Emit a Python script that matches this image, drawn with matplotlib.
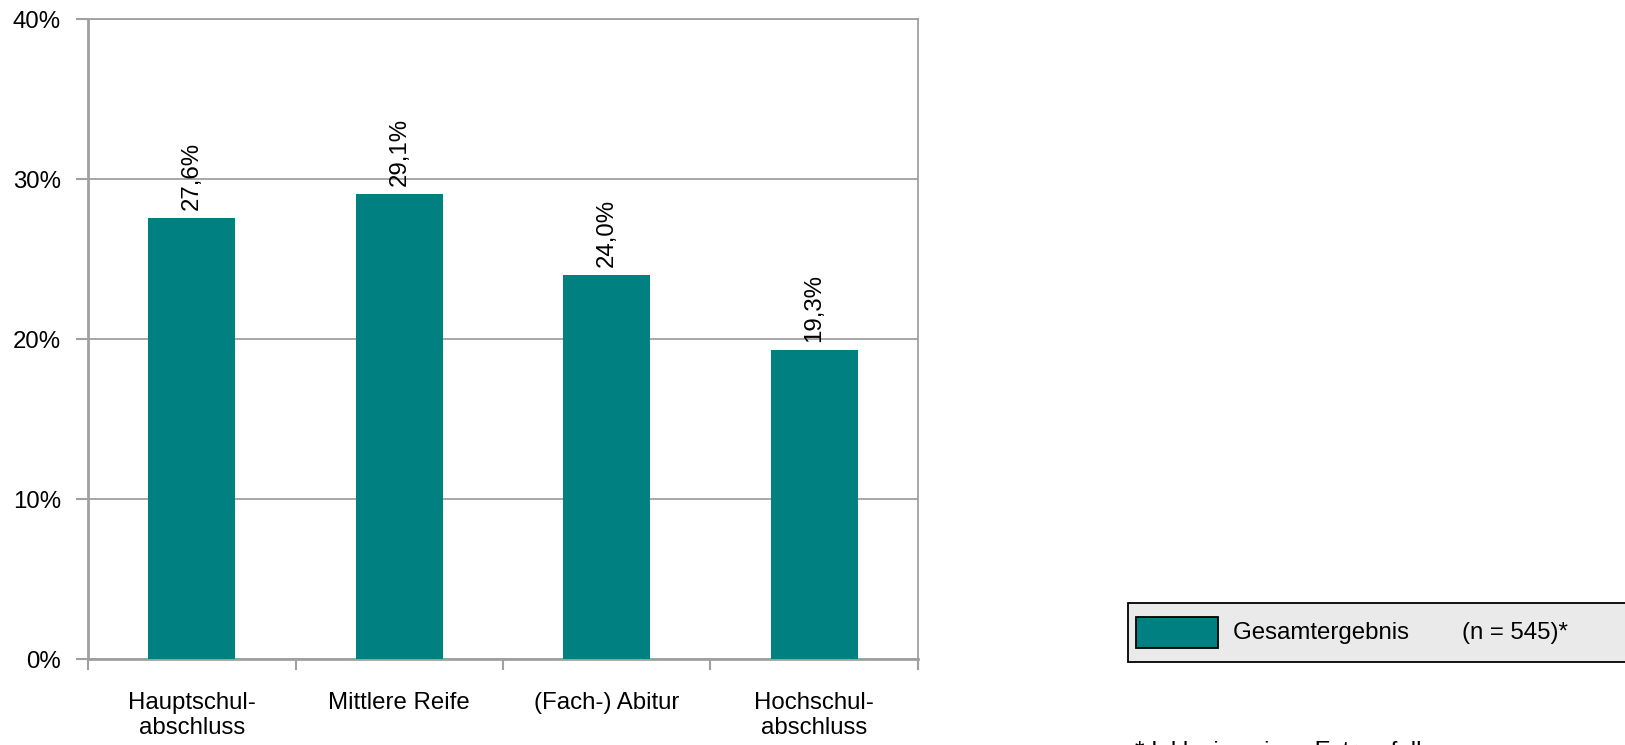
import matplotlib
matplotlib.use("Agg")
import matplotlib.pyplot as plt
from matplotlib.patches import Rectangle
import numpy as np

categories = ["Hauptschul-\nabschluss", "Mittlere Reife", "(Fach-) Abitur", "Hochschul-\nabschluss"]
values = [27.6, 29.1, 24.0, 19.3]
value_labels = ["27,6%", "29,1%", "24,0%", "19,3%"]
yticks = [0, 10, 20, 30, 40]
ytick_labels = ["0%", "10%", "20%", "30%", "40%"]
legend_label = "Gesamtergebnis        (n = 545)*"
footnote = "* Inklusive eines Extremfalles"

plt.rcParams['font.family'] = ['Liberation Sans', 'DejaVu Sans']
FS = 17.3
BAR = "#008080"
GRID = "#A0A0A0"

W, H = 1625, 745
fig = plt.figure(figsize=(W / 100, H / 100), dpi=100)
ax = fig.add_axes([88 / W, 1 - 659.3 / H, (918 - 88) / W, (659.3 - 19.3) / H])

x = np.arange(len(categories))
bars = ax.bar(x, values, width=0.417, color=BAR, zorder=3)
for b, lab in zip(bars, value_labels):
    ax.text(b.get_x() + b.get_width() / 2, b.get_height() + 0.5, lab,
            rotation=90, ha="center", va="bottom", fontsize=FS, zorder=4)

ax.set_xlim(-0.5, len(categories) - 0.5)
ax.set_ylim(0, 40)
ax.set_yticks(yticks)
ax.set_yticklabels(ytick_labels, fontsize=FS)
ax.yaxis.grid(True, color=GRID, lw=1.3, zorder=0)
ax.set_axisbelow(True)

ax.set_xticks(x)
ax.set_xticklabels(categories, fontsize=FS)
ax.set_xticks(np.arange(len(categories) + 1) - 0.5, minor=True)
ax.tick_params(axis="x", which="major", length=0, pad=23.3)
ax.tick_params(axis="x", which="minor", length=8, width=1.5, color=GRID)
ax.tick_params(axis="y", length=9, width=1.5, color=GRID, pad=10.5)

for s in ["left", "bottom"]:
    ax.spines[s].set_color(GRID)
    ax.spines[s].set_linewidth(2)
for s in ["top", "right"]:
    ax.spines[s].set_color(GRID)
    ax.spines[s].set_linewidth(1.3)

# Legend (manual, box extends past figure edge)
box = Rectangle((1128 / W, 1 - 662 / H), (1700 - 1128) / W, (662 - 603) / H,
                transform=fig.transFigure, facecolor="#EAEAEA", edgecolor="black",
                lw=1.3, clip_on=False)
fig.patches.append(box)
handle = Rectangle((1136 / W, 1 - 648 / H), (1218 - 1136) / W, (648 - 617) / H,
                   transform=fig.transFigure, facecolor=bars[0].get_facecolor(),
                   edgecolor="black", lw=1.3)
fig.patches.append(handle)
fig.text(1233 / W, 1 - 632.5 / H, legend_label, fontsize=FS, va="center", ha="left")

fig.text(1135 / W, 1 - 741 / H, footnote, fontsize=FS, va="top", ha="left")

fig.savefig("out.png", dpi=100)
